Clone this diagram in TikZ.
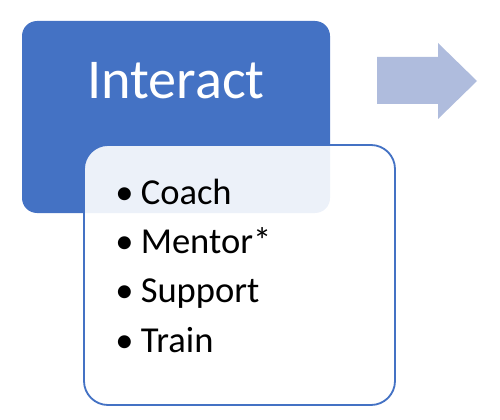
\documentclass[tikz,border=0pt]{standalone}
\usepackage{fontspec}
\setmainfont{Carlito}
\definecolor{accblue}{HTML}{4472C4}
\definecolor{arrblue}{HTML}{AFBCDD}
\tikzset{
    headbox/.style={fill=accblue, draw=none, rounded corners=0.375cm},
    listbox/.style={fill=white, fill opacity=0.9, draw=accblue, line width=1.3pt, rounded corners=0.6cm},
    headtext/.style={text=white, font=\fontsize{40}{48}\selectfont, anchor=base, inner sep=0pt},
    itemtext/.style={text=black, font=\fontsize{26}{31}\selectfont, anchor=base west, inner sep=0pt}
}
\newcommand{\itembul}{•\hspace{0.2em}}
\begin{document}
\begin{tikzpicture}[x=0.025cm, y=-0.025cm]
        \useasboundingbox (0, 0) rectangle (500, 420);

        % Header
        \draw[headbox] (22, 21) rectangle (330, 213);
        \node[headtext] (interact) at (176, 99) {Interact};

        % Arrow
        \fill[arrblue] (377, 57) -- (438, 57) -- (438, 43) -- (477, 81)
            -- (438, 119) -- (438, 104) -- (377, 104) -- cycle;

        % List
        \draw[listbox] (84, 145) rectangle (395, 405);
        \node[itemtext] (coach) at (115, 204) {\itembul Coach};
        \node[itemtext] (mentor) at (115, 253) {\itembul Mentor*};
        \node[itemtext] (support) at (115, 302) {\itembul Support};
        \node[itemtext] (train) at (115, 352) {\itembul Train};
    \end{tikzpicture}
\end{document}
